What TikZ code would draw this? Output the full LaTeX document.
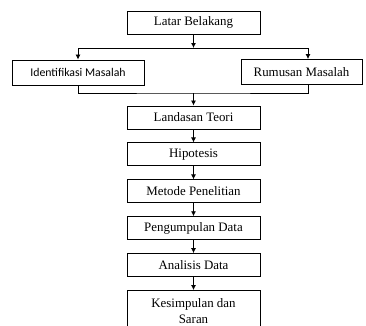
\documentclass[tikz,border=0pt]{standalone}
\usepackage{fontspec}
\setmainfont{Liberation Serif}
\newfontfamily\calfont{Carlito}
\usetikzlibrary{positioning, arrows.meta}

\begin{document}
\begin{tikzpicture}[>={Latex[length=5pt,width=5pt]}, semithick, node distance=13pt,
  box/.style={draw, line width=0.9pt, minimum width=133pt, minimum height=23pt,
    inner sep=0pt, align=center, font=\fontsize{12.9}{17}\selectfont},
  flow/.style={->, line width=0.8pt}]
  \useasboundingbox (0,0) rectangle (366pt,-325pt);

  \node[box] (latar) at (193.5pt,-22.5pt) {Latar Belakang};
  \node[box, minimum width=132pt, minimum height=25pt, font=\calfont\fontsize{11.8}{14}\selectfont] (ident) at (78pt,-72.5pt) {Identifikasi Masalah};
  \node[box, minimum width=121pt, minimum height=25pt] (rumus) at (301.5pt,-72pt) {Rumusan Masalah};

  \node[box] (landasan) at (193.5pt,-117.5pt) {Landasan Teori};
  \node[box, below=of landasan] (hipo) {Hipotesis};
  \node[box, below=of hipo] (metode) {Metode Penelitian};
  \node[box, below=of metode] (kumpul) {Pengumpulan Data};
  \node[box, below=of kumpul] (analisis) {Analisis Data};
  \node[box, below=of analisis, minimum height=47pt, text depth=6pt,
    font=\fontsize{12.9}{15.5}\selectfont] (simpul) {Kesimpulan dan\\Saran};

  % cabang atas dan gabungan bawah
  \coordinate (split) at (193.5pt,-48pt);
  \coordinate (join) at (193.5pt,-93pt);

  \draw[flow] (latar) -- (split);
  \draw[flow] (split) -| (ident.north);
  \draw[flow] (split) -| ([xshift=6.5pt]rumus.north);
  \draw[line width=0.8pt] (ident.south) |- (join) -| ([xshift=6.5pt]rumus.south);
  \draw[flow] (join) -- (landasan);

  \path[flow]
    (landasan) edge (hipo)
    (hipo) edge (metode)
    (metode) edge (kumpul)
    (kumpul) edge (analisis)
    (analisis) edge (simpul);
\end{tikzpicture}
\end{document}
